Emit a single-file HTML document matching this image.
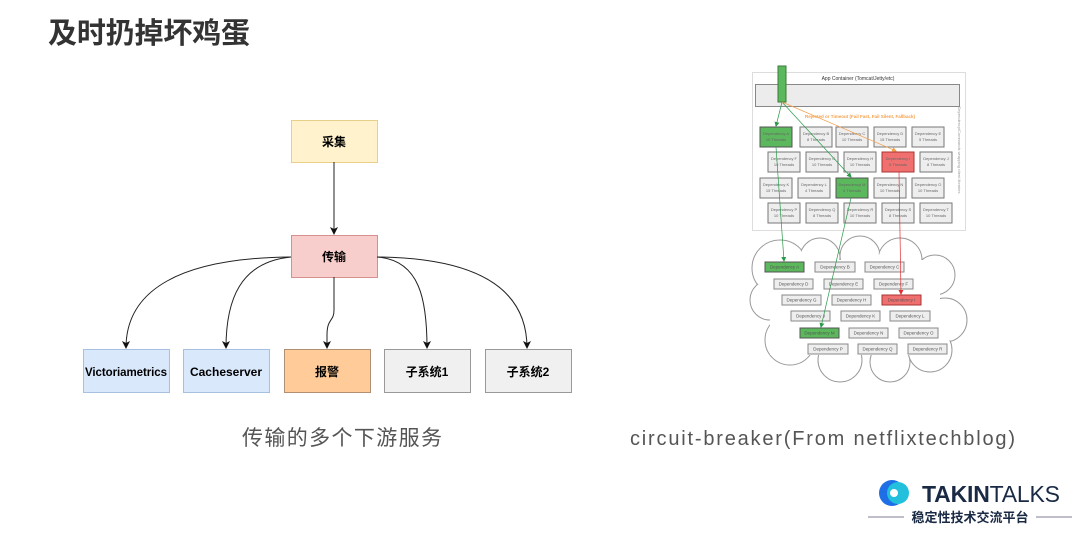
<!DOCTYPE html>
<html><head><meta charset="utf-8"><style>
body{margin:0;background:#fff;}
svg{display:block;}
</style></head><body>
<svg width="1080" height="533" viewBox="0 0 1080 533" xmlns="http://www.w3.org/2000/svg" font-family="Liberation Sans, Noto Sans CJK SC, sans-serif">
<defs>
<marker id="ar" markerWidth="8" markerHeight="8" refX="7" refY="4" orient="auto" markerUnits="userSpaceOnUse"><path d="M0,0 L8,4 L0,8 L2,4 z" fill="#111"/></marker>
<marker id="ag" markerWidth="5" markerHeight="5" refX="4" refY="2.5" orient="auto" markerUnits="userSpaceOnUse"><path d="M0,0 L5,2.5 L0,5 z" fill="#2a9a4a"/></marker>
<marker id="ao" markerWidth="5" markerHeight="5" refX="4" refY="2.5" orient="auto" markerUnits="userSpaceOnUse"><path d="M0,0 L5,2.5 L0,5 z" fill="#f5a04a"/></marker>
<marker id="arr" markerWidth="5" markerHeight="5" refX="4" refY="2.5" orient="auto" markerUnits="userSpaceOnUse"><path d="M0,0 L5,2.5 L0,5 z" fill="#e03030"/></marker>
</defs>
<text x="48" y="43" font-size="29" font-weight="bold" fill="#333" textLength="202">及时扔掉坏鸡蛋</text>

<!-- left diagram -->
<rect x="291.5" y="120.5" width="86" height="42" fill="#fff2cc" stroke="#e8d08a"/>
<text x="334" y="146" font-size="12" font-weight="bold" text-anchor="middle">采集</text>
<line x1="334" y1="162" x2="334" y2="234" stroke="#222" marker-end="url(#ar)"/>
<rect x="291.5" y="235.5" width="86" height="42" fill="#f8cecc" stroke="#d8908e"/>
<text x="334" y="261" font-size="12" font-weight="bold" text-anchor="middle">传输</text>
<g fill="none" stroke="#222" stroke-width="1">
<path d="M291 257 C180 258 126 290 126 348" marker-end="url(#ar)"/>
<path d="M291 257 C240 262 226 300 226 348" marker-end="url(#ar)"/>
<path d="M334 277 L334 310 C334 322 327 318 327 335 L327 348" marker-end="url(#ar)"/>
<path d="M377 257 C420 260 427 300 427 348" marker-end="url(#ar)"/>
<path d="M377 257 C480 258 527 290 527 348" marker-end="url(#ar)"/>
</g>
<g font-size="12" font-weight="bold" text-anchor="middle">
<rect x="83.5" y="349.5" width="86" height="43" fill="#dae8fc" stroke="#a8c0e0"/>
<text x="126" y="376" font-size="11.5" textLength="82">Victoriametrics</text>
<rect x="183.5" y="349.5" width="86" height="43" fill="#dae8fc" stroke="#a8c0e0"/>
<text x="226" y="376">Cacheserver</text>
<rect x="284.5" y="349.5" width="86" height="43" fill="#ffcc99" stroke="#b09070"/>
<text x="327" y="376">报警</text>
<rect x="384.5" y="349.5" width="86" height="43" fill="#f0f0f0" stroke="#999"/>
<text x="427" y="376">子系统1</text>
<rect x="485.5" y="349.5" width="86" height="43" fill="#f0f0f0" stroke="#999"/>
<text x="528" y="376">子系统2</text>
</g>
<text x="242" y="445" font-size="21" fill="#555" textLength="200">传输的多个下游服务</text>
<text x="630" y="445" font-size="20" fill="#555" textLength="385">circuit-breaker(From netflixtechblog)</text>

<!-- right diagram -->
<rect x="752.5" y="72.5" width="213" height="158" fill="#fff" stroke="#ddd"/>
<text x="858" y="80" font-size="5" fill="#333" text-anchor="middle">App Container (Tomcat/Jetty/etc)</text>
<rect x="755.5" y="84.5" width="204" height="22" fill="#ececec" stroke="#888"/>
<rect x="778" y="66" width="8" height="36" fill="#5cb85c" stroke="#3a7a3a"/>
<text x="860" y="118" font-size="4.5" fill="#f5a04a" font-weight="bold" text-anchor="middle">Rejected or Timeout (Fail Fast, Fail Silent, Fallback)</text>
<g font-size="4" text-anchor="middle" fill="#666">
<rect x="760" y="127" width="32" height="20" fill="#5cb85c" stroke="#555"/><text x="776" y="135">Dependency A</text><text x="776" y="141">10 Threads</text>
<rect x="800" y="127" width="32" height="20" fill="#eee" stroke="#777"/><text x="816" y="135">Dependency B</text><text x="816" y="141">8 Threads</text>
<rect x="836" y="127" width="32" height="20" fill="#eee" stroke="#777"/><text x="852" y="135">Dependency C</text><text x="852" y="141">10 Threads</text>
<rect x="874" y="127" width="32" height="20" fill="#eee" stroke="#777"/><text x="890" y="135">Dependency D</text><text x="890" y="141">15 Threads</text>
<rect x="912" y="127" width="32" height="20" fill="#eee" stroke="#777"/><text x="928" y="135">Dependency E</text><text x="928" y="141">5 Threads</text>
<rect x="768" y="152" width="32" height="20" fill="#eee" stroke="#777"/><text x="784" y="160">Dependency F</text><text x="784" y="166">10 Threads</text>
<rect x="806" y="152" width="32" height="20" fill="#eee" stroke="#777"/><text x="822" y="160">Dependency G</text><text x="822" y="166">10 Threads</text>
<rect x="844" y="152" width="32" height="20" fill="#eee" stroke="#777"/><text x="860" y="160">Dependency H</text><text x="860" y="166">10 Threads</text>
<rect x="882" y="152" width="32" height="20" fill="#f07070" stroke="#a33"/><text x="898" y="160">Dependency I</text><text x="898" y="166">5 Threads</text>
<rect x="920" y="152" width="32" height="20" fill="#eee" stroke="#777"/><text x="936" y="160">Dependency J</text><text x="936" y="166">8 Threads</text>
<rect x="760" y="178" width="32" height="20" fill="#eee" stroke="#777"/><text x="776" y="186">Dependency K</text><text x="776" y="192">15 Threads</text>
<rect x="798" y="178" width="32" height="20" fill="#eee" stroke="#777"/><text x="814" y="186">Dependency L</text><text x="814" y="192">4 Threads</text>
<rect x="836" y="178" width="32" height="20" fill="#5cb85c" stroke="#555"/><text x="852" y="186">Dependency M</text><text x="852" y="192">5 Threads</text>
<rect x="874" y="178" width="32" height="20" fill="#eee" stroke="#777"/><text x="890" y="186">Dependency N</text><text x="890" y="192">10 Threads</text>
<rect x="912" y="178" width="32" height="20" fill="#eee" stroke="#777"/><text x="928" y="186">Dependency O</text><text x="928" y="192">10 Threads</text>
<rect x="768" y="203" width="32" height="20" fill="#eee" stroke="#777"/><text x="784" y="211">Dependency P</text><text x="784" y="217">10 Threads</text>
<rect x="806" y="203" width="32" height="20" fill="#eee" stroke="#777"/><text x="822" y="211">Dependency Q</text><text x="822" y="217">8 Threads</text>
<rect x="844" y="203" width="32" height="20" fill="#eee" stroke="#777"/><text x="860" y="211">Dependency R</text><text x="860" y="217">10 Threads</text>
<rect x="882" y="203" width="32" height="20" fill="#eee" stroke="#777"/><text x="898" y="211">Dependency S</text><text x="898" y="217">8 Threads</text>
<rect x="920" y="203" width="32" height="20" fill="#eee" stroke="#777"/><text x="936" y="211">Dependency T</text><text x="936" y="217">10 Threads</text>
</g>
<!-- cloud -->
<g stroke="#999" stroke-width="1" fill="#fff">
<circle cx="780" cy="268" r="28"/><circle cx="820" cy="258" r="20"/><circle cx="860" cy="256" r="20"/><circle cx="900" cy="260" r="22"/>
<circle cx="935" cy="275" r="20"/><circle cx="770" cy="300" r="20"/><circle cx="945" cy="320" r="22"/><circle cx="790" cy="340" r="25"/>
<circle cx="840" cy="360" r="22"/><circle cx="890" cy="362" r="20"/><circle cx="930" cy="350" r="22"/>
</g>
<g fill="#fff">
<circle cx="780" cy="268" r="27"/><circle cx="820" cy="258" r="19"/><circle cx="860" cy="256" r="19"/><circle cx="900" cy="260" r="21"/>
<circle cx="935" cy="275" r="19"/><circle cx="770" cy="300" r="19"/><circle cx="945" cy="320" r="21"/><circle cx="790" cy="340" r="24"/>
<circle cx="840" cy="360" r="21"/><circle cx="890" cy="362" r="19"/><circle cx="930" cy="350" r="21"/>
<rect x="770" y="260" width="170" height="95"/>
</g>
<g font-size="4.5" text-anchor="middle" fill="#555">
<rect x="765" y="262" width="39" height="10" fill="#5cb85c" stroke="#555"/><text x="784.5" y="268.5">Dependency A</text>
<rect x="815" y="262" width="40" height="10" fill="#eee" stroke="#888"/><text x="835" y="268.5">Dependency B</text>
<rect x="865" y="262" width="39" height="10" fill="#eee" stroke="#888"/><text x="884.5" y="268.5">Dependency C</text>
<rect x="774" y="279" width="39" height="10" fill="#eee" stroke="#888"/><text x="793.5" y="285.5">Dependency D</text>
<rect x="824" y="279" width="39" height="10" fill="#eee" stroke="#888"/><text x="843.5" y="285.5">Dependency E</text>
<rect x="874" y="279" width="39" height="10" fill="#eee" stroke="#888"/><text x="893.5" y="285.5">Dependency F</text>
<rect x="782" y="295" width="39" height="10" fill="#eee" stroke="#888"/><text x="801.5" y="301.5">Dependency G</text>
<rect x="832" y="295" width="39" height="10" fill="#eee" stroke="#888"/><text x="851.5" y="301.5">Dependency H</text>
<rect x="882" y="295" width="39" height="10" fill="#f07070" stroke="#a33"/><text x="901.5" y="301.5">Dependency I</text>
<rect x="791" y="311" width="39" height="10" fill="#eee" stroke="#888"/><text x="810.5" y="317.5">Dependency J</text>
<rect x="841" y="311" width="39" height="10" fill="#eee" stroke="#888"/><text x="860.5" y="317.5">Dependency K</text>
<rect x="890" y="311" width="40" height="10" fill="#eee" stroke="#888"/><text x="910" y="317.5">Dependency L</text>
<rect x="800" y="328" width="39" height="10" fill="#5cb85c" stroke="#555"/><text x="819.5" y="334.5">Dependency M</text>
<rect x="849" y="328" width="39" height="10" fill="#eee" stroke="#888"/><text x="868.5" y="334.5">Dependency N</text>
<rect x="899" y="328" width="39" height="10" fill="#eee" stroke="#888"/><text x="918.5" y="334.5">Dependency O</text>
<rect x="808" y="344" width="40" height="10" fill="#eee" stroke="#888"/><text x="828" y="350.5">Dependency P</text>
<rect x="858" y="344" width="39" height="10" fill="#eee" stroke="#888"/><text x="877.5" y="350.5">Dependency Q</text>
<rect x="908" y="344" width="39" height="10" fill="#eee" stroke="#888"/><text x="927.5" y="350.5">Dependency R</text>
</g>
<g stroke-width="0.7" fill="none">
<line x1="782" y1="102" x2="776" y2="126" stroke="#2a9a4a" marker-end="url(#ag)"/>
<line x1="782" y1="102" x2="851" y2="177" stroke="#2a9a4a" marker-end="url(#ag)"/>
<line x1="782" y1="102" x2="896" y2="151" stroke="#f5a04a" marker-end="url(#ao)"/>
<line x1="776" y1="147" x2="784" y2="261" stroke="#2a9a4a" marker-end="url(#ag)"/>
<line x1="851" y1="198" x2="821" y2="327" stroke="#2a9a4a" marker-end="url(#ag)"/>
<line x1="899" y1="172" x2="901" y2="294" stroke="#e03030" marker-end="url(#arr)"/>
</g>
<text x="958" y="150" font-size="4" fill="#999" transform="rotate(90 958 150)" text-anchor="middle">Dependency/Commands wrapping client libraries</text>

<!-- logo -->
<g>
<circle cx="892" cy="493" r="13" fill="#1e6fe6"/>
<circle cx="898" cy="493" r="11" fill="#22c0dd"/>
<circle cx="894" cy="493" r="4" fill="#fff"/>
<text x="922" y="502" font-size="23" font-weight="bold" fill="#1a2a44" textLength="138">TAKIN<tspan font-weight="normal">TALKS</tspan></text>
<line x1="868" y1="517" x2="904" y2="517" stroke="#aab" stroke-width="1.5"/>
<line x1="1036" y1="517" x2="1072" y2="517" stroke="#aab" stroke-width="1.5"/>
<text x="970" y="522" font-size="13" font-weight="bold" fill="#1a2a44" text-anchor="middle">稳定性技术交流平台</text>
</g>
</svg>
</body></html>
